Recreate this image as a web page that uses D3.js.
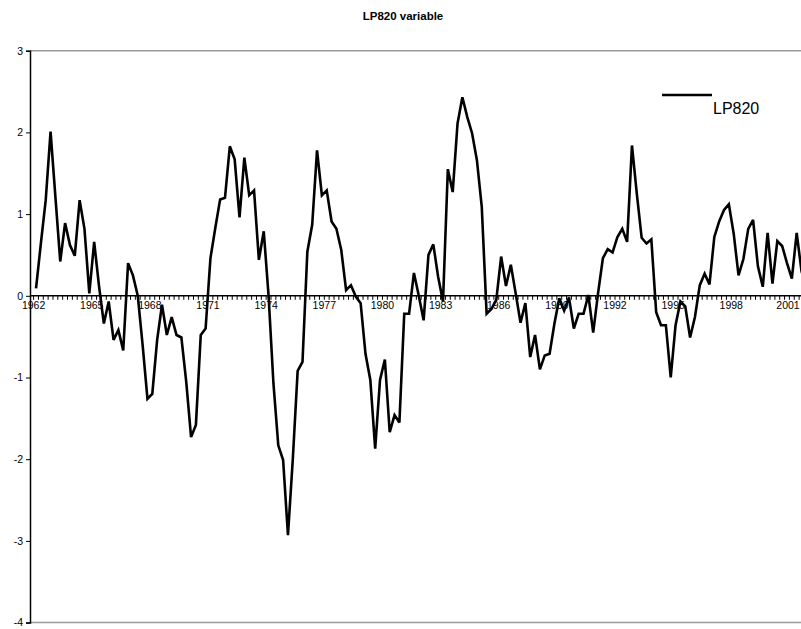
<!DOCTYPE html>
<html>
<head>
<meta charset="utf-8">
<script src="https://cdn.jsdelivr.net/npm/d3@7"></script>
<style>
html,body{margin:0;padding:0;background:#fff;}
svg{display:block;font-family:"Liberation Sans",Arial,sans-serif;}
</style>
</head>
<body>
<svg id="chart" width="801" height="629"></svg>
<script>
const title = "LP820 variable";
const seriesName = "LP820";
const startYear = 1962;
const quarters = d3.range(160).map(i => `${startYear + Math.floor(i / 4)}Q${i % 4 + 1}`);
const values = [
  0.09, 0.64, 1.17, 2.01, 1.21, 0.42, 0.89, 0.62, 0.49, 1.17,
  0.82, 0.03, 0.66, 0.12, -0.34, -0.07, -0.54, -0.42, -0.67, 0.40,
  0.25, 0.00, -0.60, -1.26, -1.20, -0.54, -0.11, -0.48, -0.26, -0.48,
  -0.51, -1.05, -1.73, -1.58, -0.48, -0.40, 0.46, 0.83, 1.18, 1.20,
  1.83, 1.67, 0.96, 1.69, 1.23, 1.29, 0.44, 0.79, 0.00, -1.07,
  -1.83, -2.01, -2.93, -2.00, -0.92, -0.81, 0.54, 0.87, 1.78, 1.23,
  1.29, 0.91, 0.82, 0.56, 0.07, 0.13, -0.01, -0.09, -0.71, -1.03,
  -1.87, -1.03, -0.78, -1.67, -1.46, -1.55, -0.22, -0.22, 0.28, 0.00,
  -0.30, 0.50, 0.63, 0.23, -0.07, 1.55, 1.27, 2.11, 2.43, 2.19,
  1.99, 1.66, 1.09, -0.22, -0.16, -0.05, 0.48, 0.12, 0.38, 0.03,
  -0.33, -0.09, -0.75, -0.48, -0.90, -0.73, -0.71, -0.34, -0.03, -0.18,
  -0.02, -0.40, -0.22, -0.22, 0.01, -0.45, 0.03, 0.46, 0.57, 0.53,
  0.72, 0.82, 0.66, 1.84, 1.25, 0.71, 0.64, 0.69, -0.20, -0.36,
  -0.36, -1.00, -0.36, -0.07, -0.13, -0.51, -0.26, 0.13, 0.27, 0.14,
  0.72, 0.91, 1.05, 1.12, 0.76, 0.25, 0.45, 0.82, 0.93, 0.36,
  0.11, 0.77, 0.15, 0.67, 0.61, 0.40, 0.21, 0.77, 0.30, 0.10
];
const yTicks = [-4, -3, -2, -1, 0, 1, 2, 3];
const xLabelYears = d3.range(1962, 2002, 3);

const svg = d3.select("#chart");
const axisX = 30;
const bw = 4.845;
const x = d3.scaleBand().domain(quarters).range([33.6, 33.6 + quarters.length * bw]).paddingInner(0).paddingOuter(0);
const y = d3.scaleLinear().domain([-4, 3]).range([622.6, 50.7]);
const cx = q => x(q) + x.bandwidth() / 2;

// title
svg.append("text").attr("x", 403).attr("y", 20).attr("text-anchor", "middle")
  .attr("font-size", 11.5).attr("font-weight", "bold").attr("fill", "#000").text(title);

// gray top/bottom borders
[3, -4].forEach(v => {
  svg.append("line").attr("x1", axisX).attr("x2", 801).attr("y1", y(v)).attr("y2", y(v))
    .attr("stroke", "#9a9a9a").attr("stroke-width", 1.5);
});

// y axis
const yAxis = d3.axisLeft(y).tickValues(yTicks).tickSize(4).tickPadding(3).tickFormat(d3.format("d"));
const gy = svg.append("g").attr("transform", `translate(${axisX},0)`).call(yAxis);
gy.select(".domain").attr("stroke", "#000").attr("stroke-width", 1.5);
gy.selectAll(".tick line").attr("stroke", "#000");
gy.selectAll(".tick text").attr("font-size", 10.5).attr("fill", "#000")
  .attr("font-family", "Liberation Sans, Arial, sans-serif").text(d => d < 0 ? "-" + Math.abs(d) : d);

// x axis at zero with ticks at category boundaries
const gx = svg.append("g");
gx.append("line").attr("x1", axisX).attr("x2", 801).attr("y1", y(0)).attr("y2", y(0))
  .attr("stroke", "#000").attr("stroke-width", 1.5);
gx.selectAll("line.tk").data(quarters).enter().append("line").attr("class", "tk")
  .attr("x1", d => x(d)).attr("x2", d => x(d))
  .attr("y1", y(0)).attr("y2", y(0) + 4).attr("stroke", "#000").attr("stroke-width", 1);
gx.selectAll("text.xl").data(xLabelYears).enter().append("text").attr("class", "xl")
  .attr("x", d => Math.min(x(`${d}Q1`), 788)).attr("y", y(0) + 13)
  .attr("text-anchor", "middle").attr("font-size", 10.5).attr("fill", "#000").text(d => d);

// data line
const line = d3.line().x((d, i) => cx(quarters[i])).y(d => y(d));
svg.append("path").datum(values).attr("d", line).attr("fill", "none")
  .attr("stroke", "#000").attr("stroke-width", 2.6).attr("stroke-linejoin", "miter").attr("stroke-miterlimit", 3);

// legend
svg.append("line").attr("x1", 662).attr("x2", 712).attr("y1", 95).attr("y2", 95)
  .attr("stroke", "#000").attr("stroke-width", 2.6);
svg.append("text").attr("x", 713).attr("y", 114).attr("font-size", 16).attr("fill", "#000").text(seriesName);
</script>
</body>
</html>
